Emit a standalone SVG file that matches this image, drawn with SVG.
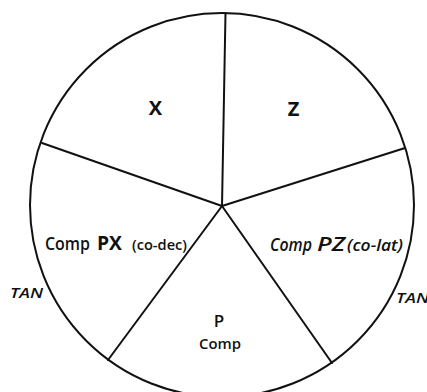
<svg xmlns="http://www.w3.org/2000/svg" width="427" height="392" viewBox="0 0 427 392">
<style>
.ln{stroke:#111;stroke-width:2;fill:none;stroke-linecap:round}
.t{font-family:"Open Sans",Lato,"DejaVu Sans",sans-serif;fill:#111;font-weight:600}
.b{font-weight:bold}
.i{font-style:italic}
</style>
<rect width="427" height="392" fill="#fff"/>
<g id="circle"><circle class="ln" cx="222" cy="205" r="192"/></g>
<g id="connectors">
<line class="ln" x1="222" y1="206" x2="225.5" y2="13"/>
<line class="ln" x1="222" y1="206" x2="42" y2="143"/>
<line class="ln" x1="222" y1="206" x2="405" y2="148"/>
<line class="ln" x1="222" y1="206" x2="108" y2="360"/>
<line class="ln" x1="222" y1="206" x2="332" y2="363"/>
</g>
<g id="X"><text class="t b" x="155.5" y="115" font-size="20" text-anchor="middle">X</text></g>
<g id="Z"><text class="t b" x="293.5" y="116" font-size="20" text-anchor="middle">Z</text></g>
<g id="PX"><text class="t" y="250" font-size="18"><tspan x="45" textLength="45" lengthAdjust="spacingAndGlyphs">Comp</tspan> <tspan x="97" class="b" font-size="20" textLength="25" lengthAdjust="spacingAndGlyphs">PX</tspan> <tspan x="132" font-size="15" textLength="55" lengthAdjust="spacingAndGlyphs">(co-dec)</tspan></text></g>
<g id="PZ"><text class="t i" y="251" font-size="18"><tspan x="270" textLength="42" lengthAdjust="spacingAndGlyphs">Comp</tspan> <tspan x="317" font-size="19" textLength="28" lengthAdjust="spacingAndGlyphs">PZ</tspan><tspan x="347" font-size="16" textLength="56" lengthAdjust="spacingAndGlyphs">(co-lat)</tspan></text></g>
<g id="P"><text class="t" x="219" y="327" font-size="17" text-anchor="middle">P</text>
<text class="t" x="220" y="349" font-size="15" text-anchor="middle" textLength="42" lengthAdjust="spacingAndGlyphs">Comp</text></g>
<g id="TAN-left"><text class="t i" x="10" y="298" font-size="14" textLength="33" lengthAdjust="spacingAndGlyphs">TAN</text></g>
<g id="TAN-right"><text class="t i" x="396" y="303" font-size="14" textLength="33" lengthAdjust="spacingAndGlyphs">TAN</text></g>
</svg>
